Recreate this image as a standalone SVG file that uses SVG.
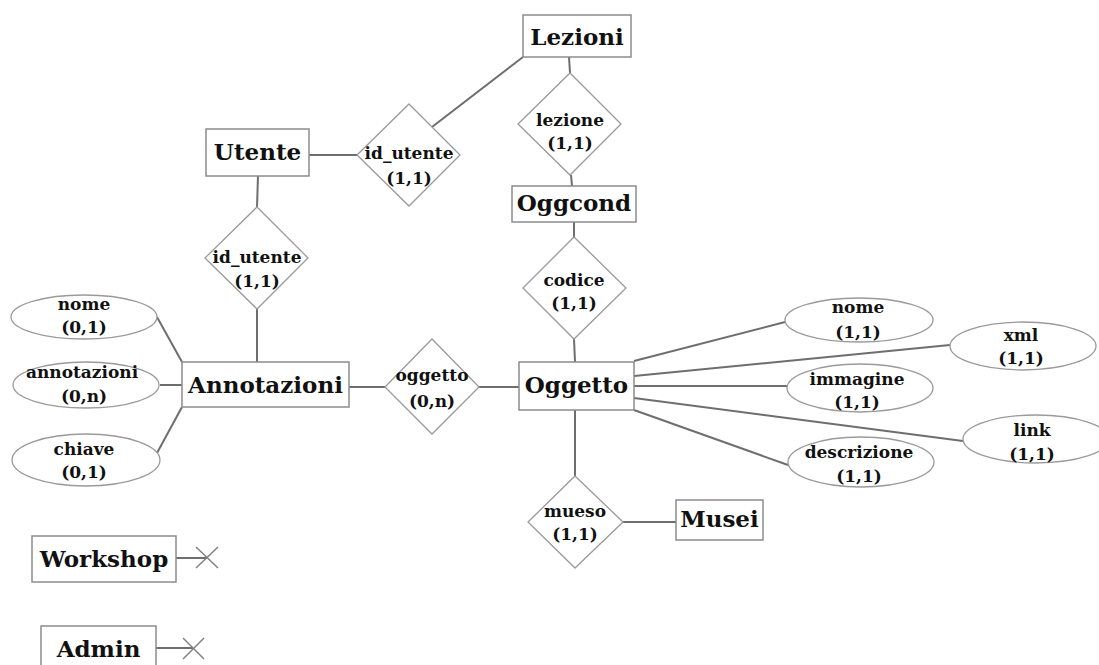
<svg xmlns="http://www.w3.org/2000/svg" width="1099" height="665" viewBox="0 0 1099 665">
<style>
.box{fill:#fff;stroke:#8c8c8c;stroke-width:1.5}
.dia{fill:#fff;stroke:#9a9a9a;stroke-width:1.3}
.ell{fill:#fff;stroke:#9a9a9a;stroke-width:1.3}
.ln{stroke:#6e6e6e;stroke-width:2;fill:none}
.xm{stroke:#808080;stroke-width:1.5;fill:none}
.big{font-family:"DejaVu Serif","Liberation Serif",serif;font-weight:bold;font-size:23px;fill:#111;text-anchor:middle}
.sm{font-family:"DejaVu Serif","Liberation Serif",serif;font-weight:bold;font-size:17px;fill:#111;text-anchor:middle}
</style>
<rect width="1099" height="665" fill="#fff"/>
<g id="connectors">
<line class="ln" x1="432" y1="127" x2="523" y2="57"/>
<line class="ln" x1="569" y1="57" x2="570" y2="73"/>
<line class="ln" x1="571" y1="175" x2="572" y2="186"/>
<line class="ln" x1="574" y1="222" x2="574" y2="237"/>
<line class="ln" x1="574" y1="339" x2="575" y2="362"/>
<line class="ln" x1="309" y1="155" x2="357" y2="155"/>
<line class="ln" x1="258" y1="176" x2="257" y2="207"/>
<line class="ln" x1="257" y1="309" x2="257" y2="362"/>
<line class="ln" x1="349" y1="387" x2="385" y2="387"/>
<line class="ln" x1="479" y1="387" x2="519" y2="387"/>
<line class="ln" x1="157" y1="317" x2="182" y2="362"/>
<line class="ln" x1="160" y1="385" x2="182" y2="385"/>
<line class="ln" x1="157" y1="453" x2="182" y2="407"/>
<line class="ln" x1="634" y1="361" x2="785" y2="322"/>
<line class="ln" x1="634" y1="376" x2="950" y2="345"/>
<line class="ln" x1="634" y1="386" x2="787" y2="386"/>
<line class="ln" x1="634" y1="398" x2="963" y2="441"/>
<line class="ln" x1="634" y1="410" x2="788" y2="465"/>
<line class="ln" x1="575" y1="410" x2="575" y2="476"/>
<line class="ln" x1="623" y1="522" x2="676" y2="522"/>
<line class="ln" x1="176" y1="558" x2="207" y2="558"/>
<line class="xm" x1="196" y1="547" x2="218" y2="568"/>
<line class="xm" x1="196" y1="568" x2="218" y2="547"/>
<line class="ln" x1="156" y1="648" x2="193" y2="648"/>
<line class="xm" x1="183" y1="638" x2="204" y2="659"/>
<line class="xm" x1="183" y1="659" x2="204" y2="638"/>
</g>
<g id="Lezioni"><rect class="box" x="523" y="15" width="108" height="42"/><text class="big" x="577" y="45">Lezioni</text></g>
<g id="Utente"><rect class="box" x="206" y="129" width="103" height="47"/><text class="big" x="257.5" y="160">Utente</text></g>
<g id="Oggcond"><rect class="box" x="512" y="186" width="124" height="36"/><text class="big" x="574" y="211">Oggcond</text></g>
<g id="Annotazioni"><rect class="box" x="182" y="362" width="167" height="45"/><text class="big" x="265.5" y="393">Annotazioni</text></g>
<g id="Oggetto"><rect class="box" x="519" y="362" width="115" height="48"/><text class="big" x="576.5" y="393">Oggetto</text></g>
<g id="Musei"><rect class="box" x="676" y="500" width="87" height="40"/><text class="big" x="719.5" y="527">Musei</text></g>
<g id="Workshop"><rect class="box" x="32" y="536" width="144" height="46"/><text class="big" x="104" y="567">Workshop</text></g>
<g id="Admin"><rect class="box" x="41" y="626" width="115" height="40"/><text class="big" x="98.5" y="657">Admin</text></g>
<g id="rel_lezione"><polygon class="dia" points="570,73 621,124 570,175 518,124"/><text class="sm" x="570" y="126">lezione</text><text class="sm" x="570" y="149">(1,1)</text></g>
<g id="rel_id_utente_1"><polygon class="dia" points="409,104 460,155 409,206 357,155"/><text class="sm" x="409" y="159">id_utente</text><text class="sm" x="409" y="184">(1,1)</text></g>
<g id="rel_id_utente_2"><polygon class="dia" points="257,207 308,258 257,309 205,258"/><text class="sm" x="257" y="263">id_utente</text><text class="sm" x="257" y="287">(1,1)</text></g>
<g id="rel_codice"><polygon class="dia" points="574,237 626,288 574,339 523,288"/><text class="sm" x="574" y="286">codice</text><text class="sm" x="574" y="309">(1,1)</text></g>
<g id="rel_oggetto"><polygon class="dia" points="432,339 479,387 432,434 385,387"/><text class="sm" x="432" y="381">oggetto</text><text class="sm" x="432" y="407">(0,n)</text></g>
<g id="rel_mueso"><polygon class="dia" points="575,476 623,522 575,568 528,522"/><text class="sm" x="575" y="517">mueso</text><text class="sm" x="575" y="540">(1,1)</text></g>
<g id="att_nome_a"><ellipse class="ell" cx="84" cy="317" rx="73" ry="22"/><text class="sm" x="84" y="310">nome</text><text class="sm" x="84" y="333">(0,1)</text></g>
<g id="att_annotazioni"><ellipse class="ell" cx="86" cy="385" rx="73" ry="23"/><text class="sm" x="82" y="378">annotazioni</text><text class="sm" x="84" y="402">(0,n)</text></g>
<g id="att_chiave"><ellipse class="ell" cx="86" cy="460" rx="74" ry="26"/><text class="sm" x="84" y="455">chiave</text><text class="sm" x="84" y="478">(0,1)</text></g>
<g id="att_nome_o"><ellipse class="ell" cx="859" cy="320" rx="74" ry="22"/><text class="sm" x="858" y="313">nome</text><text class="sm" x="858" y="338">(1,1)</text></g>
<g id="att_xml"><ellipse class="ell" cx="1023" cy="346" rx="73" ry="24"/><text class="sm" x="1021" y="341">xml</text><text class="sm" x="1021" y="364">(1,1)</text></g>
<g id="att_immagine"><ellipse class="ell" cx="860" cy="388" rx="73" ry="24"/><text class="sm" x="857" y="385">immagine</text><text class="sm" x="857" y="408">(1,1)</text></g>
<g id="att_link"><ellipse class="ell" cx="1036" cy="439" rx="73" ry="24"/><text class="sm" x="1032" y="436">link</text><text class="sm" x="1032" y="460">(1,1)</text></g>
<g id="att_descrizione"><ellipse class="ell" cx="861" cy="462" rx="73" ry="25"/><text class="sm" x="859" y="458">descrizione</text><text class="sm" x="859" y="482">(1,1)</text></g>
</svg>
